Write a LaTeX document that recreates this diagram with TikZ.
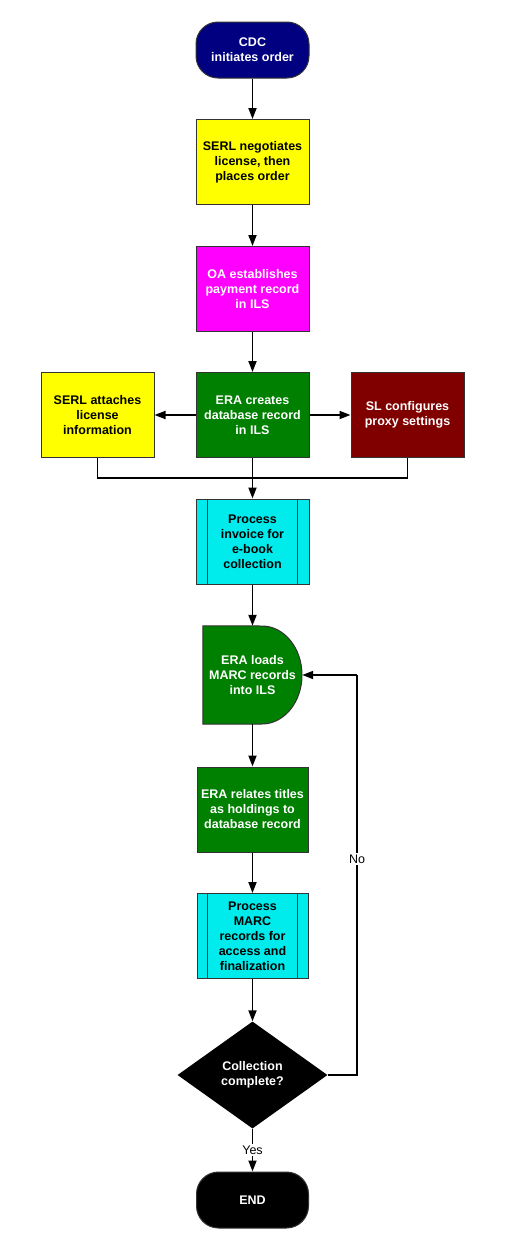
\documentclass[tikz,border=0pt]{standalone}
\usepackage{fontspec}
\setmainfont{Liberation Sans}
\usetikzlibrary{arrows.meta,shapes.geometric}
\definecolor{cdcblue}{RGB}{0,0,128}
\definecolor{serlyellow}{RGB}{255,255,0}
\definecolor{oamagenta}{RGB}{255,0,255}
\definecolor{eragreen}{RGB}{0,128,0}
\definecolor{slmaroon}{RGB}{128,0,0}
\definecolor{proccyan}{RGB}{0,236,236}
\begin{document}
\begin{tikzpicture}[x=1pt,y=-1pt,
  >={Triangle[length=11pt,width=8pt]},
  every node/.style={font=\fontsize{12.5}{15}\selectfont\bfseries, align=center, inner sep=0pt},
  box/.style={draw=black!80, line width=1pt, minimum width=113pt, minimum height=85pt},
  term/.style={box, rounded corners=22pt, minimum height=56pt},
  lbl/.style={fill=white, font=\fontsize{12.5}{15}\selectfont, inner sep=1.5pt},
  flow/.style={->, line width=1.8pt}]
\useasboundingbox (0,0) rectangle (509,1250);
\node[term, fill=cdcblue, text=white] (start) at (252.5,50) {CDC\\initiates order};
\node[box, fill=serlyellow] (neg) at (252.5,162) {SERL negotiates\\license, then\\places order};
\node[box, fill=oamagenta, text=white] (pay) at (252.5,289) {OA establishes\\payment record\\in ILS};
\node[box, fill=eragreen, text=white] (era) at (252.5,415) {ERA creates\\database record\\in ILS};
\node[box, fill=serlyellow] (att) at (97.5,415) {SERL attaches\\license\\information};
\node[box, fill=slmaroon, text=white] (cfg) at (407.5,415) {SL configures\\proxy settings};
\node[box, fill=proccyan] (inv) at (252.5,541.5) {Process\\invoice for\\e-book\\collection};
\draw[line width=1pt, black!80] ([xshift=12pt]inv.north west) -- ([xshift=12pt]inv.south west)
  ([xshift=-12pt]inv.north east) -- ([xshift=-12pt]inv.south east);
\node[minimum width=99pt, minimum height=98pt] (load) at (252.5,675) {};
\draw[draw=black!80, line width=1pt, fill=eragreen] (load.north west) -- (262,626)
  arc[start angle=90, end angle=-90, x radius=40pt, y radius=49pt] -- (load.south west) -- cycle;
\node[text=white] (loadtxt) at (load) {ERA loads\\MARC records\\into ILS};
\node[box, fill=eragreen, text=white, minimum width=111pt] (rel) at (252.5,809.5) {ERA relates titles\\as holdings to\\database record};
\node[box, fill=proccyan, minimum width=111pt] (marc) at (252.5,936) {Process\\MARC\\records for\\access and\\finalization};
\draw[line width=1pt, black!80] ([xshift=11pt]marc.north west) -- ([xshift=11pt]marc.south west)
  ([xshift=-11pt]marc.north east) -- ([xshift=-11pt]marc.south east);
\node[diamond, fill=black, text=white, minimum width=150pt, minimum height=107pt] (done) at (252.5,1075) {Collection\\complete?};
\node[term, fill=black, text=white, minimum width=112pt] (end) at (252.5,1200) {END};
\coordinate (mrg) at (252.5,478);
\coordinate (back) at (357,675);
\draw[flow] (start) -- (neg);
\draw[flow] (neg) -- (pay);
\draw[flow] (pay) -- (era);
\draw[flow] (era) -- (att);
\draw[flow] (era) -- (cfg);
\draw[line width=1.8pt] (att.south) |- (mrg) -| (cfg.south);
\draw[flow] (era) -- (inv);
\draw[flow] (inv) -- (load);
\draw[flow] (load) -- (rel);
\draw[flow] (rel) -- (marc);
\draw[flow] (marc) -- (done);
\draw[flow] (done) -- node[lbl]{Yes} (end);
\draw[line width=1.8pt] (done.east) -| node[lbl, pos=0.77]{No} (back);
\draw[flow] (back) -- (load.east);
\end{tikzpicture}
\end{document}
